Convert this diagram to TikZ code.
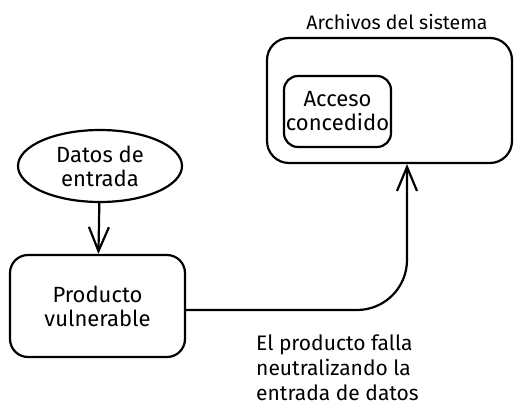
\documentclass[tikz,border=0pt]{standalone}
\usepackage{fontspec}
\setmainfont{Fira Sans}
\usetikzlibrary{shapes.geometric,arrows.meta,positioning}

\begin{document}
\begin{tikzpicture}[
x=1pt,y=-1pt,
box/.style={
  draw,
  line width=2.2pt,
  rounded corners=18pt,
  align=center,
  font=\fontsize{22}{24}\selectfont
  },
bubble/.style={
  draw,
  ellipse,
  line width=2.2pt,
  inner sep=0pt,
  align=center,
  font=\fontsize{22}{24}\selectfont
  },
note/.style={align=left, inner sep=0pt, font=\fontsize{21}{25}\selectfont},
flow/.style={line width=2.2pt, -{Straight Barb[length=24pt,width=20pt,line width=2.2pt]}}
]
\useasboundingbox (0,0) rectangle (522,415);
\node[bubble, minimum width=164pt, minimum height=72pt] (datos) at (100,166) {Datos de\\entrada};
\node[box, minimum width=175pt, minimum height=102pt] (prod) at (97.5,306) {Producto\\vulnerable};
\node[box, rounded corners=22pt, minimum width=245pt, minimum height=125pt] (sistema) at (389.5,100.5) {};
\node[box, rounded corners=14pt, minimum width=107pt, minimum height=71pt, inner sep=1pt] (acceso) at (337.5,111.5) {Acceso\\concedido};
\node[note, font=\fontsize{19.5}{25}\selectfont] (titulo) at (397,22) {Archivos del sistema};
\node[note, anchor=west] (falla) at (256,368) {El producto falla\\neutralizando la\\entrada de datos};
\draw[flow] (datos) -- (prod);
\draw[flow, rounded corners=50pt] ([yshift=-4pt]prod.east) -| ([xshift=17.5pt]sistema.south);
\end{tikzpicture}
\end{document}
